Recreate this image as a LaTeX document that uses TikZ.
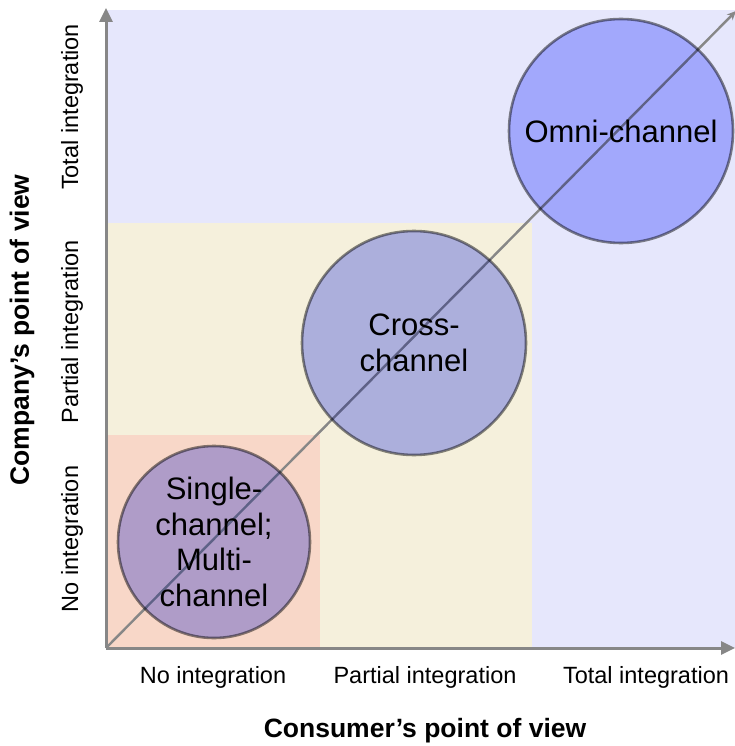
\documentclass[tikz,border=0pt]{standalone}
\usepackage{fontspec}
\setmainfont{Liberation Sans}
\usepackage{xcolor}
\usepackage{tikz}
\usetikzlibrary{arrows.meta, positioning}

\definecolor{bglav}{RGB}{230,231,252}
\definecolor{bgbeige}{RGB}{245,240,220}
\definecolor{bgpink}{RGB}{248,215,200}
\definecolor{chanfill}{RGB}{180,186,255}
\definecolor{axgray}{RGB}{135,135,135}

\begin{document}
\begin{tikzpicture}[x=1pt, y=-1pt, >={Triangle[length=14pt, width=13pt]},
        chan/.style={circle, draw=axgray, line width=2.6pt, fill=chanfill, align=center, inner sep=0pt, font=\fontsize{31}{35.5}\selectfont},
        tick/.style={font=\fontsize{23.5}{28}\selectfont, inner sep=0pt},
        axtitle/.style={font=\bfseries\fontsize{26.5}{30}\selectfont, inner sep=0pt},
        axis/.style={draw=axgray, line width=3pt}]

        \useasboundingbox (0,0) rectangle (735,746);

        % zones
        \fill[bglav] (106,10) rectangle (735,648);
        \fill[bgbeige] (106,223) rectangle (532,648);
        \fill[bgpink] (106,435) rectangle (320,648);

        \coordinate (origin) at (106,648);
        \coordinate (ytop) at (106,8);
        \coordinate (xend) at (735,648);
        \coordinate (diagend) at (736,11);

        \draw[axgray, line width=2.4pt, -{Stealth[length=9pt, width=8pt, open]}] (origin) -- (diagend);

        \begin{scope}[blend mode=multiply]
        \node (single) [chan, minimum size=192pt] at (214,542) {Single-\\channel;\\Multi-\\channel};
        \node (cross) [chan, minimum size=224pt] at (414,343) {Cross-\\channel};
        \node (omni) [chan, minimum size=224pt] at (621,131) {Omni-channel};
        \end{scope}

        \draw[axis, ->] (origin) -- (ytop);
        \draw[axis, ->] (origin) -- (xend);

        \node (xno) [tick] at (213,677) {No integration};
        \node (xpart) [tick] at (425,677) {Partial integration};
        \node (xtot) [tick] at (646,677) {Total integration};
        \node (yno) [tick, rotate=90] at (72,539) {No integration};
        \node (ypart) [tick, rotate=90] at (72,332) {Partial integration};
        \node (ytot) [tick, rotate=90] at (72,107) {Total integration};

        \node (xtitle) [axtitle] at (425,731) {Consumer’s point of view};
        \node (ytitle) [axtitle, rotate=90] at (22,330) {Company’s point of view};
    \end{tikzpicture}
\end{document}
